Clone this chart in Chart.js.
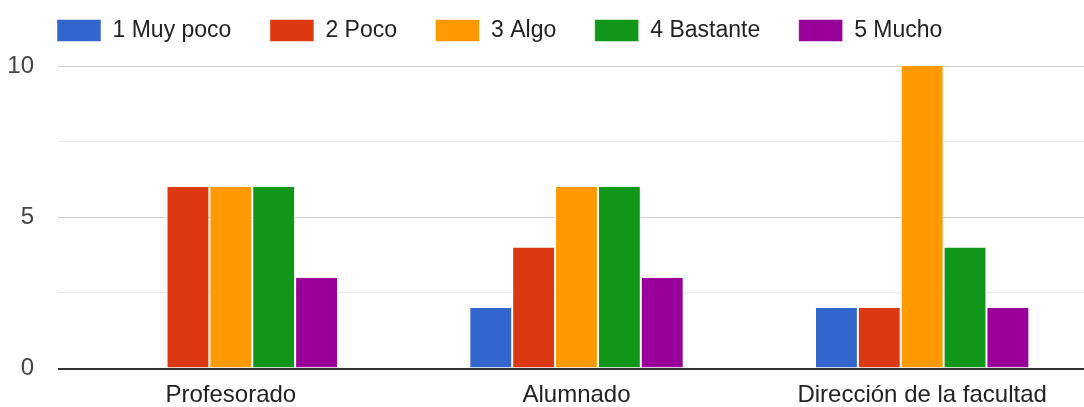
<!DOCTYPE html>
<html lang="es">
<head>
<meta charset="utf-8">
<title>Valoración por colectivo</title>
<script src="https://cdn.jsdelivr.net/npm/chart.js@4.4.1/dist/chart.umd.min.js"></script>
<style>
    html, body { margin: 0; padding: 0; background: #fff; overflow: hidden; }
    #wrap { width: 1095px; height: 407px; position: relative; }
</style>
</head>
<body>
<div id="wrap"><canvas id="grafico"></canvas></div>
<script>
// Colectivos encuestados
const colectivos = ['Profesorado', 'Alumnado', 'Dirección de la facultad'];

// Respuestas por nivel (número de personas en cada colectivo)
const muyPoco  = [0, 2, 2];
const poco     = [6, 4, 2];
const algo     = [6, 6, 10];
const bastante = [6, 6, 4];
const mucho    = [3, 3, 2];

const niveles = ['1 Muy poco', '2 Poco', '3 Algo', '4 Bastante', '5 Mucho'];
const colores = ['#3366cc', '#dc3912', '#ff9900', '#109618', '#990099'];

// Marcas del eje Y: sólo se rotulan 0, 5 y 10
const ejeMin = 0;
const ejeMax = 10;
const ejePaso = 2.5;

Chart.defaults.font.family = '"Liberation Sans", Arial, sans-serif';
Chart.defaults.font.size = 24;

const series = [muyPoco, poco, algo, bastante, mucho];

// desplaza la leyenda para alinearla con el área del gráfico
const legendOffset = {
    id: 'legendOffset',
    afterLayout(chart) {
        chart.legend.left += 18.5;
        chart.legend.top -= 19.5;
    }
};

const ctx = document.getElementById('grafico').getContext('2d');
new Chart(ctx, {
    type: 'bar',
    data: {
        labels: colectivos,
        datasets: series.map((valores, i) => ({
            label: niveles[i],
            data: valores,
            backgroundColor: colores[i],
            borderColor: '#ffffff',
            borderWidth: { left: 1, right: 1, top: 0, bottom: 0 },
            borderSkipped: false,
            barPercentage: 1,
            categoryPercentage: 0.62
        }))
    },
    options: {
        responsive: true,
        maintainAspectRatio: false,
        animation: false,
        layout: { padding: 0 },
        plugins: {
            legend: {
                position: 'top',
                align: 'start',
                maxHeight: 66,
                labels: {
                    boxWidth: 44,
                    boxHeight: 22,
                    padding: 38.5,
                    color: '#222',
                    font: { size: 23 }
                }
            },
            tooltip: { enabled: false }
        },
        scales: {
            x: {
                afterFit(scale) { scale.height = 38; },
                grid: { display: false, drawTicks: false },
                border: { display: false },
                ticks: { color: '#222', padding: 12, font: { size: 24 } }
            },
            y: {
                min: ejeMin,
                max: ejeMax,
                afterFit(scale) { scale.width = 58; },
                border: { display: false },
                grid: {
                    drawTicks: false,
                    color: c => c.tick.value === 0 ? '#333' : (c.tick.value % 5 === 0 ? '#cccccc' : '#ebebeb'),
                    lineWidth: c => c.tick.value === 0 ? 2 : 1
                },
                ticks: {
                    stepSize: ejePaso,
                    padding: 24,
                    color: '#444',
                    font: { size: 24 },
                    callback: v => v % 5 === 0 ? v : ''
                }
            }
        }
    },
    plugins: [legendOffset]
});
</script>
</body>
</html>
